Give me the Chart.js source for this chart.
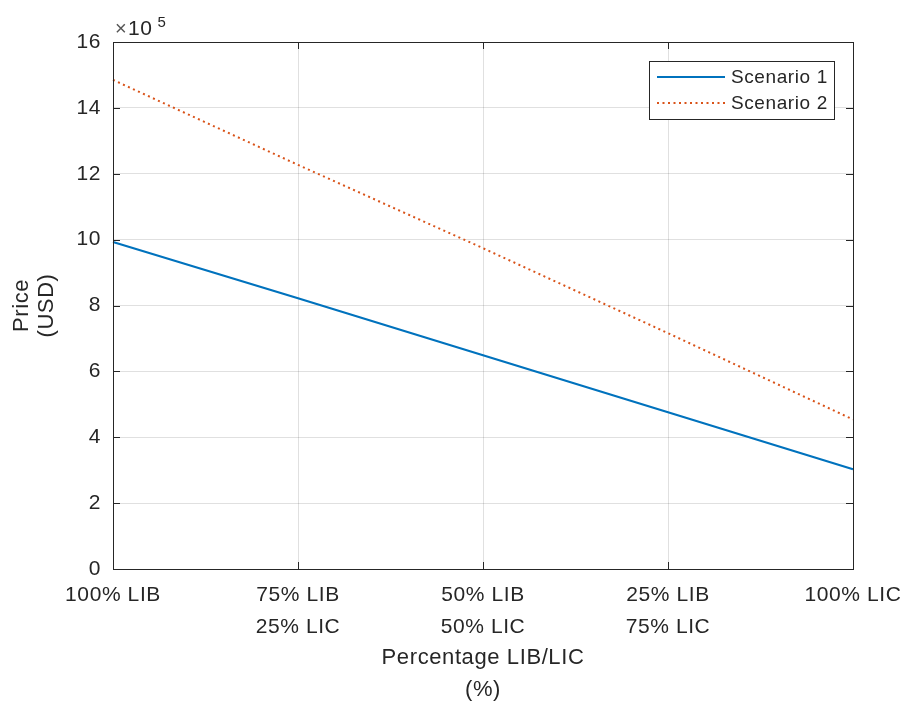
<!DOCTYPE html>
<html>
<head>
<meta charset="utf-8">
<script src="https://cdn.jsdelivr.net/npm/chart.js@4/dist/chart.umd.min.js"></script>
<style>
  html, body { margin: 0; padding: 0; background: #fff; }
  canvas { display: block; }
</style>
</head>
<body>
<canvas id="chart" width="906" height="711"></canvas>
<script>
// Battery mix along the x axis (LIB / LIC share)
const categories = [
  "100% LIB",
  ["75% LIB", "25% LIC"],
  ["50% LIB", "50% LIC"],
  ["25% LIB", "75% LIC"],
  "100% LIC"
]

// Price in USD
const scenario1 = [993000, 822000, 649000, 476000, 303000]
const scenario2 = [1485000, 1227000, 974000, 716000, 454000]

const seriesNames = ["Scenario 1", "Scenario 2"]

const yMin = 0
const yMax = 1600000
const yStep = 200000
const yExponent = 5

const INK = "#262626"
const FONT = "'Liberation Sans', Arial, Helvetica, sans-serif"
const SPACING = "0.6px"

// inward tick marks on all four sides plus the closed box
const boxPlugin = {
  id: "box",
  beforeUpdate(chart) { chart.ctx.letterSpacing = SPACING },
  beforeDraw(chart) { chart.ctx.letterSpacing = SPACING },
  afterDatasetsDraw(chart) {
    const { ctx, chartArea: a, scales } = chart
    const len = 7
    ctx.save()
    ctx.strokeStyle = INK
    ctx.lineWidth = 1
    ctx.beginPath()
    scales.x.ticks.forEach((t, i) => {
      const px = Math.round(scales.x.getPixelForTick(i)) + 0.5
      ctx.moveTo(px, a.bottom); ctx.lineTo(px, a.bottom - len)
      ctx.moveTo(px, a.top); ctx.lineTo(px, a.top + len)
    })
    scales.y.ticks.forEach((t) => {
      const py = Math.round(scales.y.getPixelForValue(t.value)) + 0.5
      ctx.moveTo(a.left, py); ctx.lineTo(a.left + len, py)
      ctx.moveTo(a.right, py); ctx.lineTo(a.right - len, py)
    })
    ctx.stroke()
    ctx.strokeRect(Math.round(a.left) + 0.5, Math.round(a.top) + 0.5,
      Math.round(a.right - a.left), Math.round(a.bottom - a.top))

    // exponent label above the y axis
    ctx.textBaseline = "alphabetic"
    ctx.textAlign = "left"
    ctx.font = "20px " + FONT
    ctx.fillStyle = "#555"
    ctx.fillText("\u00d7", a.left + 2, a.top - 7)
    ctx.fillStyle = INK
    ctx.font = "21px " + FONT
    ctx.fillText("10", a.left + 15, a.top - 7)
    const w = ctx.measureText("10").width
    ctx.font = "15px " + FONT
    ctx.fillText(String(yExponent), a.left + 20 + w, a.top - 15)
    ctx.restore()
  }
}

// legend box in the upper right corner
const legendPlugin = {
  id: "boxLegend",
  afterDraw(chart) {
    const { ctx } = chart
    const x = 649, y = 61, w = 185, h = 58
    ctx.save()
    ctx.fillStyle = "#fff"
    ctx.fillRect(x, y, w, h)
    ctx.strokeStyle = INK
    ctx.lineWidth = 1
    ctx.strokeRect(x + 0.5, y + 0.5, w, h)
    chart.data.datasets.forEach((ds, i) => {
      const cy = y + 16 + i * 26
      ctx.beginPath()
      ctx.strokeStyle = ds.borderColor
      ctx.lineWidth = ds.borderWidth
      ctx.setLineDash(ds.borderDash || [])
      ctx.moveTo(x + 8, cy)
      ctx.lineTo(x + 76, cy)
      ctx.stroke()
      ctx.setLineDash([])
      ctx.fillStyle = INK
      ctx.font = "19px " + FONT
      ctx.textBaseline = "middle"
      ctx.fillText(ds.label, x + 82, cy + 1)
    })
    ctx.restore()
  }
}

const ctx = document.getElementById("chart").getContext("2d")

new Chart(ctx, {
  type: "line",
  data: {
    labels: categories,
    datasets: [
      {
        label: seriesNames[0],
        data: scenario1,
        borderColor: "#0072BD",
        borderWidth: 2.2,
        pointRadius: 0,
        tension: 0
      },
      {
        label: seriesNames[1],
        data: scenario2,
        borderColor: "#D95319",
        borderWidth: 2,
        borderDash: [2, 3.5],
        pointRadius: 0,
        tension: 0
      }
    ]
  },
  options: {
    responsive: false,
    animation: false,
    layout: { padding: { top: 42, right: 53, left: 0, bottom: 0 } },
    plugins: {
      legend: { display: false },
      tooltip: { enabled: false }
    },
    scales: {
      x: {
        offset: false,
        grid: { color: "rgba(0,0,0,0.12)", drawTicks: false },
        border: { display: false },
        ticks: {
          color: INK,
          font: { family: FONT, size: 21, lineHeight: 1.52 },
          padding: 10,
          maxRotation: 0,
          autoSkip: false
        },
        title: {
          display: true,
          text: ["Percentage LIB/LIC", "(%)"],
          color: INK,
          font: { family: FONT, size: 22, lineHeight: 1.45 },
          padding: { top: 0, bottom: 5 }
        },
        afterFit(scale) {
          scale.height = 142
          // end labels may hang past the plot box
          scale.paddingLeft = 0
          scale.paddingRight = 0
        }
      },
      y: {
        min: yMin,
        max: yMax,
        grid: { color: "rgba(0,0,0,0.12)", drawTicks: false },
        border: { display: false },
        ticks: {
          stepSize: yStep,
          color: INK,
          font: { family: FONT, size: 21 },
          padding: 12,
          callback: (v) => v / Math.pow(10, yExponent)
        },
        title: {
          display: true,
          text: ["Price", "(USD)"],
          color: INK,
          font: { family: FONT, size: 22, lineHeight: 1.15 },
          padding: { top: 9, bottom: 0 }
        },
        afterFit(scale) { scale.width = 113 }
      }
    }
  },
  plugins: [boxPlugin, legendPlugin]
})
</script>
</body>
</html>
